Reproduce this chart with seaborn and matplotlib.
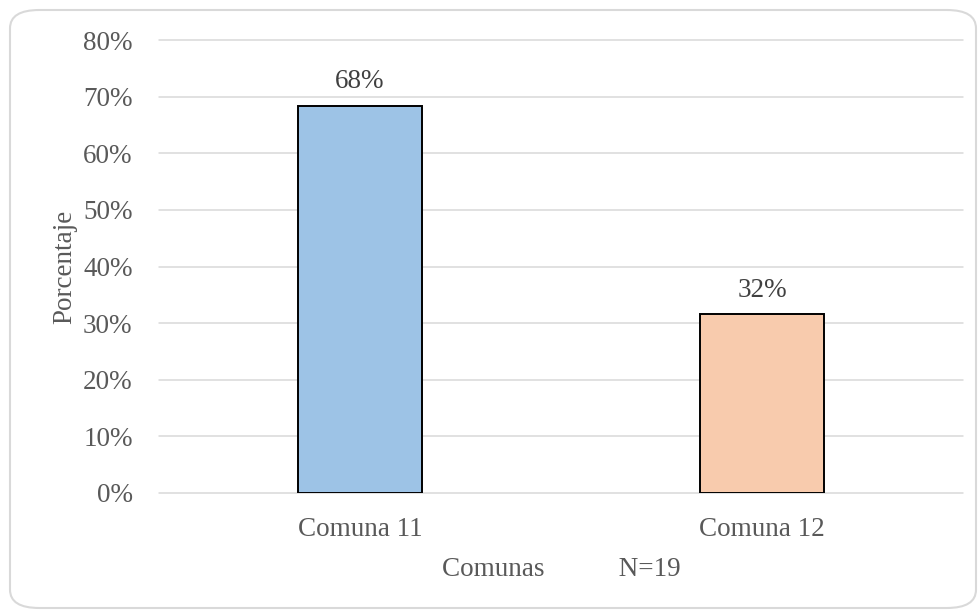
import matplotlib
matplotlib.use("Agg")
import matplotlib.pyplot as plt
from matplotlib.patches import FancyBboxPatch
import seaborn as sns
import pandas as pd

# Share of respondents per commune (N=19)
comunas = ["Comuna 11", "Comuna 12"]
porcentajes = [68.42, 31.58]
etiquetas = ["68%", "32%"]
colores = ["#9DC3E6", "#F8CBAD"]
yticks = [0, 10, 20, 30, 40, 50, 60, 70, 80]

sns.set_theme(style="white")
plt.rcParams["font.family"] = ["Liberation Serif", "DejaVu Serif"]

texto = "#595959"
df = pd.DataFrame({"Comuna": comunas, "Porcentaje": porcentajes})

fig = plt.figure(figsize=(9.79, 6.10), dpi=100)
ax = fig.add_axes([159 / 979, 1 - 493 / 610, 804 / 979, 453 / 610])

sns.barplot(data=df, x="Comuna", y="Porcentaje", hue="Comuna",
            palette=colores, saturation=1, width=0.31, edgecolor="black",
            linewidth=1.4, legend=False, ax=ax, zorder=3)

ax.set_ylim(0, 80)
ax.set_yticks(yticks)
ax.set_yticklabels([f"{v}%" for v in yticks])
ax.yaxis.grid(True, color="#d9d9d9", linewidth=1.1, zorder=0)
for gl in ax.get_ygridlines():
    gl.set_clip_on(False)
ax.set_axisbelow(True)
for s in ax.spines.values():
    s.set_visible(False)

ax.tick_params(axis="both", length=0, labelsize=19.5, labelcolor=texto)
ax.tick_params(axis="y", pad=19)
ax.tick_params(axis="x", pad=17)

ax.set_ylabel("Porcentaje", fontsize=19.5, color=texto, labelpad=4)
ax.set_xlabel("Comunas" + " " * 11 + "N=19", fontsize=19.5, color=texto, labelpad=11)

for patch, lab in zip(ax.patches, etiquetas):
    cx = patch.get_x() + patch.get_width() / 2
    ax.annotate(lab, (cx, patch.get_height()), xytext=(0, 8),
                textcoords="offset points", ha="center", va="bottom",
                fontsize=19.5, color="#404040")

# Rounded chart border
borde = FancyBboxPatch((10 / 979, 2 / 610), 966 / 979, 598 / 610,
                       boxstyle="round,pad=0,rounding_size=0.03",
                       transform=fig.transFigure, facecolor="none",
                       edgecolor="#d9d9d9", linewidth=1.5, zorder=-1)
fig.patches.append(borde)

fig.savefig("out.png", dpi=100)
